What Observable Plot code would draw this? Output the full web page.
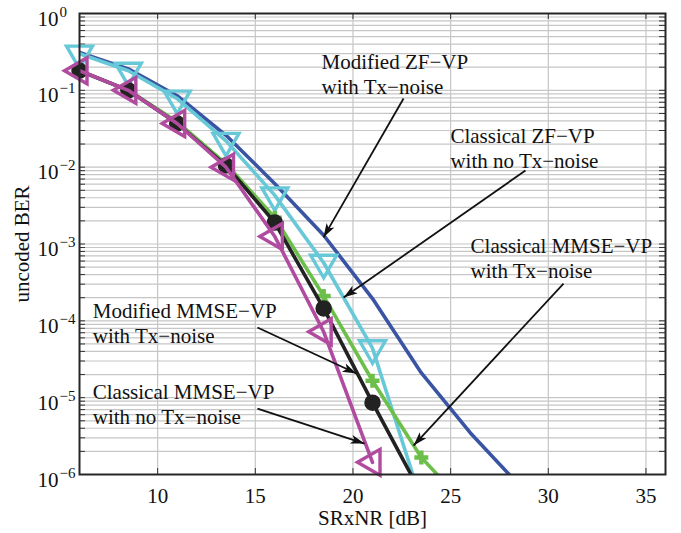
<!DOCTYPE html>
<html><head><meta charset="utf-8">
<script src="https://cdn.jsdelivr.net/npm/d3@7"></script>
<script src="https://cdn.jsdelivr.net/npm/@observablehq/plot@0.6"></script>
<style>body{margin:0;background:#fff} svg text{font-family:"Liberation Serif",serif !important;}</style>
</head><body><div id="chart"></div>
<script>
// ---------- data ----------
const snr = [6, 8.5, 11, 13.5, 16, 18.5, 21, 23.5, 26, 28];
const berModZF       = [0.31, 0.19, 0.085, 0.026, 0.0061, 0.0013, 1.95e-4, 2.1e-5, 3.5e-6, 1e-6];
const berClassZF     = [0.30, 0.18, 0.078, 0.022, 0.0043, 5.7e-4, 4.4e-5, 4.5e-7];
const berClassMMSETx = [0.18, 0.10, 0.039, 0.011, 0.0022, 2.1e-4, 1.66e-5, 1.66e-6, 3.5e-7];
const berModMMSE     = [0.18, 0.10, 0.037, 0.0105, 0.0019, 1.45e-4, 8.6e-6, 5.6e-7];
const berClassMMSE   = [0.18, 0.10, 0.037, 0.010, 0.00125, 7.2e-5, 1.44e-6];

const xTicks = [10, 15, 20, 25, 30, 35];
const yDecades = [1, 1e-1, 1e-2, 1e-3, 1e-4, 1e-5, 1e-6];
const yTickBase = ["10", "10", "10", "10", "10", "10", "10"];
const yTickExp = ["0", "−1", "−2", "−3", "−4", "−5", "−6"];
const xLabel = "SRxNR [dB]";
const yLabel = "uncoded BER";

const labelLine1 = ["Modified ZF−VP", "Classical ZF−VP", "Classical MMSE−VP", "Modified MMSE−VP", "Classical MMSE−VP"];
const labelLine2 = ["with Tx−noise", "with no Tx−noise", "with Tx−noise", "with Tx−noise", "with no Tx−noise"];
const labelX = [18.39, 24.99, 26.02, 6.68, 6.68];
const labelY = [0.192, 0.02094, 7.75e-4, 1.105e-4, 9.75e-6];
const arrowX1 = [22.59, 28.83, 30.78, 15.11, 15.11];
const arrowY1 = [0.0783, 9.05e-3, 3.06e-4, 8.19e-5, 7.22e-6];
const arrowX2 = [18.49, 19.52, 23.10, 20.18, 20.59];
const arrowY2 = [1.22e-3, 2.01e-4, 2.38e-6, 2.06e-5, 2.53e-6];

// ---------- helpers ----------
const yGrid = [];
for (let k = -6; k < 0; k++) for (let m = 1; m < 10; m++) yGrid.push(m * Math.pow(10, k));
yGrid.push(1);
const xGrid = xTicks;
const idx5 = [0, 1, 2, 3, 4];
const toRows = vals => vals.map((v, i) => ({x: snr[i], y: v}));
const inRange = d => d.y >= 1e-6;

const triDown = {draw(c) { const s = 13, h = 22.5; c.moveTo(0, 2*h/3); c.lineTo(-s, -h/3); c.lineTo(s, -h/3); c.closePath(); }};
const triLeft = {draw(c) { const s = 13, h = 22.5; c.moveTo(-2*h/3, 0); c.lineTo(h/3, -s); c.lineTo(h/3, s); c.closePath(); }};
const plusSym = {draw(c) { const h = 7; c.moveTo(-h, 0); c.lineTo(h, 0); c.moveTo(0, -h); c.lineTo(0, h); }};
const headSym = {draw(c) { c.moveTo(0, 0); c.lineTo(-4.5, 14); c.lineTo(0, 10.5); c.lineTo(4.5, 14); c.closePath(); }};

const cBlue = "#3a54a4", cCyan = "#67c8d8", cGreen = "#6cbf4a", cBlack = "#222222", cMag = "#b04b9f";
const gridColor = "#c6c6c6";
const serif = "Liberation Serif";

const base = {
  width: 681, height: 533,
  marginLeft: 79, marginRight: 16, marginTop: 13, marginBottom: 59,
  x: {domain: [6, 36], axis: null},
  y: {type: "log", domain: [1e-6, 1], axis: null},
  style: {fontFamily: serif, fontSize: "21px", background: "#fff", color: "#111", overflow: "visible"}
};

// arrowhead rotations from the plot's own scales
let rot;
try {
  const probe = Plot.plot({...base, marks: [Plot.frame()]});
  const sx = probe.scale("x"), sy = probe.scale("y");
  rot = idx5.map(i => {
    const dx = sx.apply(arrowX2[i]) - sx.apply(arrowX1[i]);
    const dy = sy.apply(arrowY2[i]) - sy.apply(arrowY1[i]);
    return Math.atan2(dx, -dy) * 180 / Math.PI;
  });
} catch (e) {
  const sx = d3.scaleLinear([6, 36], [79, 665]), sy = d3.scaleLog([1e-6, 1], [474, 13]);
  rot = idx5.map(i => Math.atan2(sx(arrowX2[i]) - sx(arrowX1[i]), -(sy(arrowY2[i]) - sy(arrowY1[i]))) * 180 / Math.PI);
}

const lw = 3.6;
const T = {fontFamily: serif, fill: "#111"};
const marks = [
  Plot.ruleX(xGrid, {x: d => d, stroke: gridColor, strokeWidth: 1.2}),
  Plot.ruleY(yGrid, {y: d => d, stroke: gridColor, strokeWidth: 1.2}),
  Plot.tickY(yGrid, {y: d => d, insetRight: 580, stroke: "#333", strokeWidth: 1}),
  Plot.tickY(yGrid, {y: d => d, insetLeft: 580, stroke: "#333", strokeWidth: 1}),
  Plot.tickX(xTicks, {x: d => d, insetTop: 455, stroke: "#333", strokeWidth: 1}),
  Plot.tickX(xTicks, {x: d => d, insetBottom: 455, stroke: "#333", strokeWidth: 1}),

  Plot.line(toRows(berModZF), {x: "x", y: "y", stroke: cBlue, strokeWidth: lw, clip: true}),

  Plot.line(toRows(berClassZF), {x: "x", y: "y", stroke: cCyan, strokeWidth: lw, clip: true}),
  Plot.dot(toRows(berClassZF), {x: "x", y: "y", filter: inRange, symbol: triDown, fill: "none", stroke: cCyan, strokeWidth: 3.4}),

  Plot.line(toRows(berClassMMSETx), {x: "x", y: "y", stroke: cGreen, strokeWidth: lw, clip: true}),
  Plot.dot(toRows(berClassMMSETx), {x: "x", y: "y", filter: inRange, symbol: plusSym, fill: "none", stroke: cGreen, strokeWidth: 4.5}),

  Plot.line(toRows(berModMMSE), {x: "x", y: "y", stroke: cBlack, strokeWidth: lw, clip: true}),
  Plot.dot(toRows(berModMMSE), {x: "x", y: "y", filter: inRange, symbol: "circle", r: 7.5, fill: cBlack, stroke: cBlack}),

  Plot.line(toRows(berClassMMSE), {x: "x", y: "y", stroke: cMag, strokeWidth: lw, clip: true}),
  Plot.dot(toRows(berClassMMSE), {x: "x", y: "y", filter: inRange, symbol: triLeft, fill: "none", stroke: cMag, strokeWidth: 3.4}),

  // annotations
  Plot.link(idx5, {x1: i => arrowX1[i], y1: i => arrowY1[i], x2: i => arrowX2[i], y2: i => arrowY2[i], stroke: "#111", strokeWidth: 1.8}),
  Plot.dot(idx5, {x: i => arrowX2[i], y: i => arrowY2[i], symbol: headSym, rotate: i => rot[i], fill: "#111", stroke: "none"}),
  Plot.text(idx5, {...T, x: i => labelX[i], y: i => labelY[i], text: i => labelLine1[i], textAnchor: "start", lineAnchor: "bottom"}),
  Plot.text(idx5, {...T, x: i => labelX[i], y: i => labelY[i], text: i => labelLine2[i], textAnchor: "start", lineAnchor: "bottom", dy: 25}),

  Plot.frame({stroke: "#262626", strokeWidth: 2}),

  // axes
  Plot.text(xTicks, {...T, x: d => d, frameAnchor: "bottom", text: d => String(d), lineAnchor: "bottom", dy: 28}),
  Plot.text(yDecades, {...T, y: d => d, frameAnchor: "left", text: (d, i) => yTickBase[i], textAnchor: "end", lineAnchor: "bottom", dx: -21, dy: 12}),
  Plot.text(yDecades, {...T, y: d => d, frameAnchor: "left", text: (d, i) => yTickExp[i], textAnchor: "start", lineAnchor: "bottom", dx: -20, dy: 3, fontSize: 15}),
  Plot.text([xLabel], {...T, frameAnchor: "bottom", text: d => d, lineAnchor: "bottom", dy: 50}),
  Plot.text([yLabel], {...T, frameAnchor: "left", text: d => d, rotate: -90, dx: -57, textAnchor: "middle", lineAnchor: "middle"})
];

document.getElementById("chart").append(Plot.plot({...base, marks}));
</script>
</body></html>
